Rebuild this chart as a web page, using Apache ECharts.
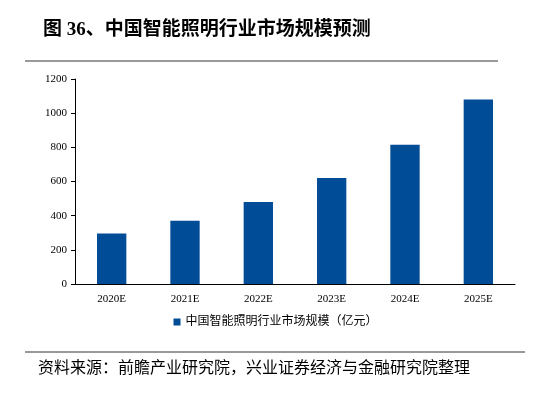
<!DOCTYPE html>
<html><head><meta charset="utf-8">
<script src="https://cdn.jsdelivr.net/npm/echarts@6/dist/echarts.min.js"></script>
<style>body{margin:0}#c{width:551px;height:401px}</style>
</head><body><div id="c"></div>
<script>
var years = ['2020E', '2021E', '2022E', '2023E', '2024E', '2025E'];
var sizes = [295, 370, 480, 620, 815, 1080];
var chart = echarts.init(document.getElementById('c'));
var serif = '"Liberation Serif", "Noto Sans CJK SC", serif';
chart.setOption({
    animation: false,
    title: {
        text: '图 36、中国智能照明行业市场规模预测',
        left: 38, top: 16,
        textStyle: {fontFamily: serif, fontSize: 19, fontWeight: 'bold', color: '#000'}
    },
    graphic: [
        {type: 'line', shape: {x1: 25, y1: 61, x2: 498, y2: 61}, style: {stroke: '#777', lineWidth: 1.5}},
        {type: 'line', shape: {x1: 25, y1: 352, x2: 525, y2: 352}, style: {stroke: '#777', lineWidth: 1.5}},
        {type: 'text', left: 38, top: 361, style: {text: '资料来源：前瞻产业研究院，兴业证券经济与金融研究院整理', font: '16px ' + serif, fill: '#000'}}
    ],
    legend: {
        bottom: 68, left: 'center', itemWidth: 7, itemHeight: 7, icon: 'rect',
        textStyle: {fontFamily: serif, fontSize: 12, color: '#000'}
    },
    grid: {left: 75, right: 36, top: 79, bottom: 117},
    xAxis: {
        type: 'category', data: years,
        axisLine: {lineStyle: {color: '#000'}},
        axisTick: {show: false},
        axisLabel: {fontFamily: serif, fontSize: 11, color: '#000', margin: 10}
    },
    yAxis: {
        type: 'value', min: 0, max: 1200, interval: 200,
        splitLine: {show: false},
        axisLine: {show: true, lineStyle: {color: '#000'}},
        axisTick: {show: true, length: 4},
        axisLabel: {fontFamily: serif, fontSize: 11, color: '#000', formatter: function (v) { return String(v); }}
    },
    series: [{
        name: '中国智能照明行业市场规模（亿元）',
        type: 'bar', data: sizes, barWidth: '40%',
        itemStyle: {color: '#004C97'}
    }]
});
</script></body></html>
